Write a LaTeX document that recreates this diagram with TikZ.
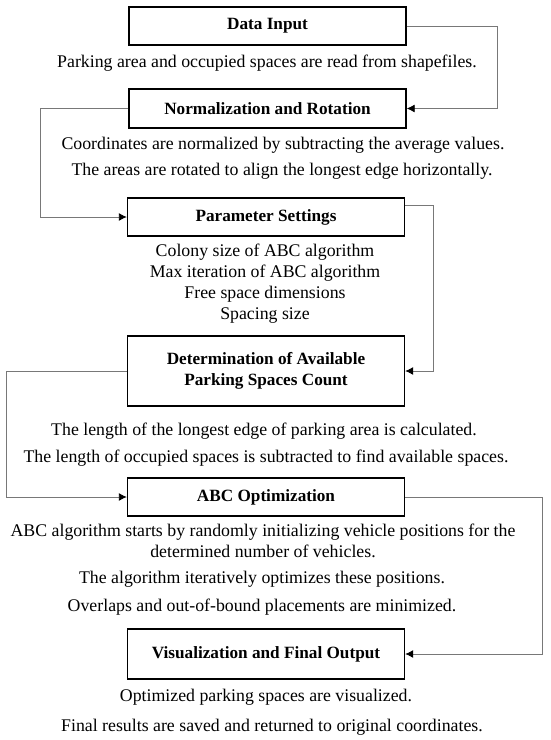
\documentclass[tikz,border=0pt]{standalone}
\usepackage{fontspec}
\setmainfont{Liberation Serif}
\usetikzlibrary{arrows.meta}
\definecolor{conngray}{RGB}{120,120,120}
\begin{document}
\begin{tikzpicture}[x=1pt,y=-1pt,
  stepbox/.style={draw=black, line width=1.4pt, fill=white, minimum width=277pt, inner sep=0pt, align=center, font=\fontsize{17.2}{21}\selectfont\bfseries},
  desc/.style={inner sep=0pt, anchor=base, font=\fontsize{17.8}{21}\selectfont},
  conn/.style={draw=conngray, line width=0.9pt, -{Latex[length=8pt,width=8pt,color=black]}}]
\useasboundingbox[fill=white] (0,0) rectangle (550,740);

\node[stepbox, minimum height=38pt] (b1) at (267.5,26) {Data Input};
\node[stepbox, minimum height=39pt] (b2) at (267.5,108.5) {Normalization and Rotation};
\node[stepbox, minimum height=38pt] (b3) at (266,217) {Parameter Settings};
\node[stepbox, minimum height=70pt] (b4) at (266,371) {Determination of Available\\Parking Spaces Count};
\node[stepbox, minimum height=38pt] (b5) at (266,497) {ABC Optimization};
\node[stepbox, minimum height=50pt] (b6) at (266,654) {Visualization and Final Output};

\node[desc] (t1) at (267,67) {Parking area and occupied spaces are read from shapefiles.};
\node[desc] (t2a) at (283,149) {Coordinates are normalized by subtracting the average values.};
\node[desc] (t2b) at (282,175) {The areas are rotated to align the longest edge horizontally.};
\node[desc] (t3a) at (265,256) {Colony size of ABC algorithm};
\node[desc] (t3b) at (265,277) {Max iteration of ABC algorithm};
\node[desc] (t3c) at (265,298) {Free space dimensions};
\node[desc] (t3d) at (265,319) {Spacing size};
\node[desc] (t4a) at (264,435) {The length of the longest edge of parking area is calculated.};
\node[desc] (t4b) at (266,462) {The length of occupied spaces is subtracted to find available spaces.};
\node[desc] (t5a) at (263,536) {ABC algorithm starts by randomly initializing vehicle positions for the};
\node[desc] (t5b) at (263,557) {determined number of vehicles.};
\node[desc] (t5c) at (262,583) {The algorithm iteratively optimizes these positions.};
\node[desc] (t5d) at (262,611) {Overlaps and out-of-bound placements are minimized.};
\node[desc] (t6a) at (266,701) {Optimized parking spaces are visualized.};
\node[desc] (t6b) at (272,731) {Final results are saved and returned to original coordinates.};

\draw[conn] (b1.east) -- ++(91,0) |- (b2.east);
\draw[conn] (b2.west) -- ++(-88,0) |- (b3.west);
\draw[conn] ([yshift=-8pt]b3.north east) -- ++(28,0) |- (b4.east);
\draw[conn] (b4.west) -- ++(-120,0) |- (b5.west);
\draw[conn] (b5.east) -- ++(137,0) |- (b6.east);
\end{tikzpicture}
\end{document}
